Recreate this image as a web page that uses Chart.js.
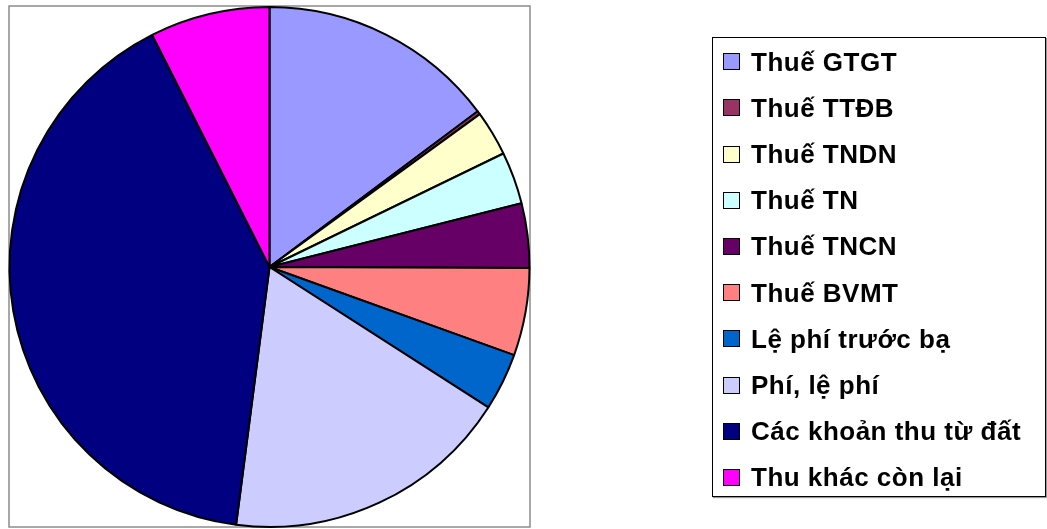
<!DOCTYPE html>
<html lang="vi">
<head>
<meta charset="UTF-8">
<title>Cơ cấu thu</title>
<script src="https://cdn.jsdelivr.net/npm/chart.js"></script>
<style>
    body { margin: 0; background: #fff; }
    .wrap { position: relative; width: 1047px; height: 529px; }
    #pie { position: absolute; left: 0; top: 0; }
    .legend {
        position: absolute; left: 712px; top: 37px;
        width: 332px; height: 458px;
        border: 1.5px solid #000;
        box-shadow: 1px 1px 1px #999;
        font-family: "Liberation Sans", Arial, sans-serif;
        font-weight: bold;
        font-size: 26px;
        letter-spacing: 0.5px;
    }
    .item { position: absolute; left: 10px; height: 30px; line-height: 30px; white-space: nowrap; }
    .box {
        display: inline-block; width: 15px; height: 15px;
        border: 1.5px solid #000; vertical-align: middle;
        margin-right: 11px; position: relative; top: -2px;
    }
</style>
</head>
<body>
<div class="wrap">
    <canvas id="pie" width="1047" height="529"></canvas>
    <div class="legend" id="legend"></div>
</div>

<script>
    // danh muc va ty trong (%)
    const labels = ['Thuế GTGT', 'Thuế TTĐB', 'Thuế TNDN', 'Thuế TN', 'Thuế TNCN',
        'Thuế BVMT', 'Lệ phí trước bạ', 'Phí, lệ phí', 'Các khoản thu từ đất', 'Thu khác còn lại'];
    const values = [14.78, 0.22, 2.81, 3.25, 4.0, 5.44, 3.58, 17.97, 40.5, 7.45];
    const colors = ['#9999FF', '#993366', '#FFFFCC', '#CCFFFF', '#660066',
        '#FF8080', '#0066CC', '#CCCCFF', '#000080', '#FF00FF'];

    // khung vung ve
    const khung = {
        id: 'khung',
        beforeDraw(chart) {
            const c = chart.ctx;
            c.save();
            c.strokeStyle = '#8c8c8c';
            c.lineWidth = 1.5;
            c.strokeRect(9, 6, 521, 521);
            c.restore();
        }
    };

    new Chart(document.getElementById('pie'), {
        type: 'pie',
        data: {
            labels: labels,
            datasets: [{
                data: values,
                backgroundColor: colors,
                borderColor: '#000',
                borderWidth: 2,
                hoverOffset: 0
            }]
        },
        options: {
            responsive: false,
            animation: false,
            radius: 260,
            layout: { padding: { left: 9, top: 7, right: 517, bottom: 2 } },
            plugins: {
                legend: { display: false },
                tooltip: { enabled: false }
            }
        },
        plugins: [khung]
    });

    // chu thich
    const legend = document.getElementById('legend');
    labels.forEach((ten, i) => {
        const row = document.createElement('div');
        row.className = 'item';
        row.style.top = (25 + i * 46.2 - 15 - 1.5) + 'px';
        row.innerHTML = `<span class="box" style="background:${colors[i]}"></span>${ten}`;
        legend.appendChild(row);
    });
</script>
</body>
</html>
